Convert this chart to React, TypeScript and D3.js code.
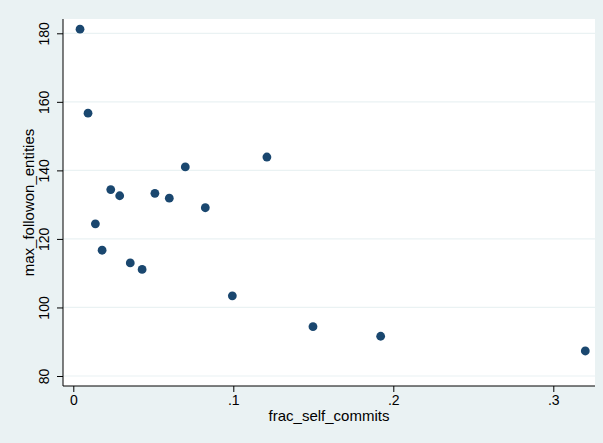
import * as d3 from 'd3';
import { FC, useEffect, useRef } from 'react';

// frac_self_commits vs max_followon_entities
const fracSelfCommits = [
  0.0042, 0.0092, 0.0138, 0.018, 0.0234, 0.029, 0.0356, 0.043, 0.051, 0.06,
  0.07, 0.0825, 0.0994, 0.121, 0.1498, 0.1921, 0.32,
];
const maxFollowonEntities = [
  181.2, 156.7, 124.4, 116.7, 134.4, 132.6, 113.0, 111.1, 133.3, 131.9, 141.0,
  129.1, 103.4, 143.9, 94.4, 91.6, 87.3,
];
const xTicks = [0, 0.1, 0.2, 0.3];
const xTickLabels = ['0', '.1', '.2', '.3'];
const yTicks = [80, 100, 120, 140, 160, 180];

const W = 603;
const H = 443;

const ScatterChart: FC = () => {
  const ref = useRef<SVGSVGElement>(null);

  useEffect(() => {
    drawChart();
  }, []);

  const drawChart = () => {
    const plot = { left: 63, right: 595, top: 19, bottom: 386 };
    const font = '"Liberation Sans", Arial, Helvetica, sans-serif';

    const svg = d3.select(ref.current);
    svg.selectAll('*').remove();

    svg
      .append('rect')
      .attr('width', W)
      .attr('height', H)
      .style('fill', '#eaf2f3');

    svg
      .append('rect')
      .attr('x', plot.left)
      .attr('y', plot.top)
      .attr('width', plot.right - plot.left)
      .attr('height', plot.bottom - plot.top)
      .style('fill', '#ffffff');

    const x = d3
      .scaleLinear()
      .domain([0, 0.3])
      .range([73.3, 553.3]);

    const y = d3.scaleLinear().domain([80, 180]).range([376, 33.3]);

    // gridlines
    svg
      .append('g')
      .selectAll('line')
      .data(yTicks)
      .enter()
      .append('line')
      .attr('x1', plot.left)
      .attr('x2', plot.right)
      .attr('y1', (d) => y(d))
      .attr('y2', (d) => y(d))
      .style('stroke', '#eaf2f3')
      .style('stroke-width', '1.2px');

    const xAxis = svg
      .append('g')
      .attr('transform', `translate(0,${plot.bottom})`)
      .call(
        d3
          .axisBottom(x)
          .tickValues(xTicks)
          .tickFormat((d, i) => xTickLabels[i])
          .tickSize(6)
          .tickSizeOuter(0)
          .tickPadding(3)
      )
      .style('font-size', '14px')
      .style('font-family', font);
    xAxis.select('.domain').remove();
    xAxis.selectAll('line').style('stroke', '#000');
    xAxis.selectAll('text').style('fill', '#000');

    const yAxis = svg
      .append('g')
      .attr('transform', `translate(${plot.left},0)`)
      .call(d3.axisLeft(y).tickValues(yTicks).tickSize(6).tickSizeOuter(0))
      .style('font-size', '14px')
      .style('font-family', font);
    yAxis.select('.domain').remove();
    yAxis.selectAll('line').style('stroke', '#000');
    yAxis
      .selectAll('text')
      .attr('x', null)
      .attr('dy', null)
      .attr('transform', 'translate(-14,0) rotate(-90)')
      .style('text-anchor', 'middle')
      .style('fill', '#000');

    // axis lines
    svg
      .append('line')
      .attr('x1', plot.left)
      .attr('x2', plot.left)
      .attr('y1', plot.top)
      .attr('y2', plot.bottom)
      .style('stroke', '#000')
      .style('stroke-width', '1px');
    svg
      .append('line')
      .attr('x1', plot.left)
      .attr('x2', plot.right)
      .attr('y1', plot.bottom)
      .attr('y2', plot.bottom)
      .style('stroke', '#000')
      .style('stroke-width', '1px');

    svg
      .append('g')
      .selectAll('circle')
      .data(fracSelfCommits)
      .enter()
      .append('circle')
      .attr('cx', (d) => x(d))
      .attr('cy', (d, i) => y(maxFollowonEntities[i]))
      .attr('r', 4.4)
      .style('fill', '#1a476f');

    svg
      .append('text')
      .attr('x', (plot.left + plot.right) / 2)
      .attr('y', 421)
      .style('text-anchor', 'middle')
      .style('font-size', '15px')
      .style('font-family', font)
      .text('frac_self_commits');

    svg
      .append('text')
      .attr('transform', `translate(33.5,${(plot.top + plot.bottom) / 2}) rotate(-90)`)
      .style('text-anchor', 'middle')
      .style('font-size', '15px')
      .style('font-family', font)
      .text('max_followon_entities');
  };

  return (
    <svg
      ref={ref}
      width={W}
      height={H}
      style={{ position: 'absolute', left: 0, top: 0 }}
    />
  );
};

export default function App() {
  return <ScatterChart />;
}
